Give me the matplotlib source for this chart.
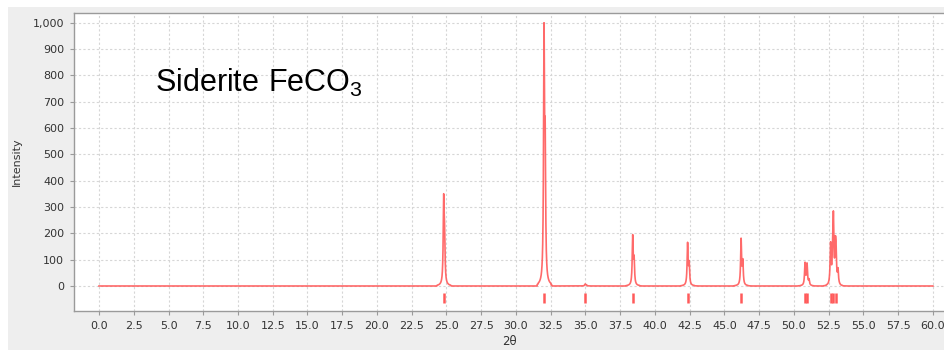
import numpy as np
import matplotlib
matplotlib.use("Agg")
import matplotlib.pyplot as plt
from matplotlib.patches import Rectangle
from matplotlib.ticker import FuncFormatter

# Reflection list (2theta in degrees, relative intensity of the Ka1 line)
refl_2theta = [24.80, 32.02, 34.98, 38.40, 42.35, 46.20, 50.80, 50.95, 52.64, 52.84, 53.03]
refl_int = [335, 1000, 8, 200, 172, 190, 92, 45, 165, 265, 115]

x_ticks = [i * 2.5 for i in range(25)]
y_ticks = [i * 100 for i in range(11)]

# Simulated powder pattern: Lorentzian lines for Ka1 plus a half-intensity Ka2 line
two_theta = np.arange(0.0, 60.0001, 0.005)
fwhm = 0.08
ka2_ratio = 0.5
dl_over_l = 0.002487
cutoff = 0.5


def lorentz(x, x0):
    d = x - x0
    prof = 1.0 / (1.0 + (2.0 * d / fwhm) ** 2)
    prof[np.abs(d) > cutoff] = 0.0
    return prof


intensity = np.zeros_like(two_theta)
for pos, inten in zip(refl_2theta, refl_int):
    shift = np.degrees(2.0 * np.tan(np.radians(pos / 2.0)) * dl_over_l)
    intensity += inten * (lorentz(two_theta, pos) + ka2_ratio * lorentz(two_theta, pos + shift))
intensity *= max(refl_int) / intensity.max()

fig = plt.figure(figsize=(9.44, 3.5), dpi=100)
fig.patch.set_facecolor("white")
fig.patches.append(Rectangle((8 / 944, 0), 1, 1 - 7 / 350, transform=fig.transFigure,
                             facecolor="#eeeeee", edgecolor="none", zorder=-10))

ax = fig.add_axes([74 / 944, 1 - 311 / 350, (944 - 74) / 944, (311 - 13) / 350])
ax.set_facecolor("white")

line_color = "#ff5a5a"
ax.plot(two_theta, intensity, color=line_color, lw=1.2, alpha=0.9, zorder=3)
ax.vlines(refl_2theta, -65, -27, color=line_color, lw=1.8, zorder=3)

ax.set_xlim(-1.8, 60.8)
ax.set_ylim(-95, 1037)
ax.set_xticks(x_ticks)
ax.set_yticks(y_ticks)
ax.xaxis.set_major_formatter(FuncFormatter(lambda v, p: f"{v:.1f}"))
ax.yaxis.set_major_formatter(FuncFormatter(lambda v, p: f"{int(v):,}"))

ax.grid(True, color="#d6d6d6", lw=0.8, linestyle=(0, (2, 2)), zorder=0)
for side in ("left", "bottom", "top"):
    ax.spines[side].set_color("#9a9a9a")
    ax.spines[side].set_linewidth(1.0)
ax.spines["right"].set_visible(False)

ax.tick_params(axis="both", length=3, width=0.8, color="#9a9a9a",
               labelsize=8, labelcolor="#333333", pad=4)

ax.set_ylabel("Intensity", fontsize=8, color="#333333", labelpad=8)
ax.set_xlabel("2θ", fontsize=8.5, color="#333333", labelpad=3)

ax.text(155, 350 - 91.5, r"$\mathregular{Siderite\ FeCO_3}$", transform=None,
        fontsize=22, family="Liberation Sans", color="black", va="baseline")

fig.savefig("out.png", dpi=100)
